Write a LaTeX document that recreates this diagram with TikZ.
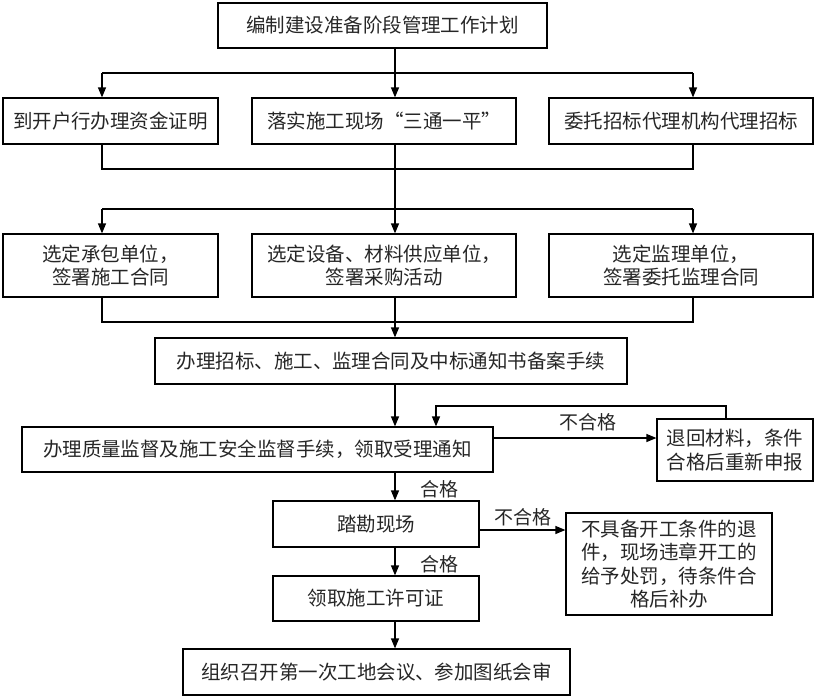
\documentclass[tikz,border=0pt]{standalone}
\usepackage{fontspec}
\setmainfont{Noto Sans CJK SC}
\usetikzlibrary{arrows.meta,calc}
\begin{document}
\begin{tikzpicture}[x=1pt,y=-1pt,
  box/.style={draw,line width=1.2pt,inner sep=0pt,align=center,text=black!85,font=\fontsize{19.5}{23.5}\selectfont},
  lbl/.style={font=\fontsize{19}{22}\selectfont,inner sep=0pt,text=black!85},
  ln/.style={line width=1.2pt},
  arr/.style={line width=1.2pt,-{Triangle[length=10pt,width=8pt]}}]
\useasboundingbox (0,0) rectangle (815,696);
\coordinate (sp) at (395,0);
% boxes
\node[box,minimum width=329pt,minimum height=45pt] (top) at (382.5,25.5) {编制建设准备阶段管理工作计划};
\node[box,minimum width=215pt,minimum height=46pt] (a2) at (110.5,121) {到开户行办理资金证明};
\node[box,minimum width=264pt,minimum height=46pt] (b2) at (384,121) {落实施工现场“三通一平”};
\node[box,minimum width=264pt,minimum height=46pt] (c2) at (681,121) {委托招标代理机构代理招标};
\node[box,minimum width=215pt,minimum height=63pt] (a3) at (110.5,265.5) {选定承包单位，\\签署施工合同};
\node[box,minimum width=264pt,minimum height=63pt] (b3) at (384,265.5) {选定设备、材料供应单位，\\签署采购活动};
\node[box,minimum width=264pt,minimum height=63pt] (c3) at (681,265.5) {选定监理单位，\\签署委托监理合同};
\node[box,minimum width=472pt,minimum height=46pt] (bid) at (391,361) {办理招标、施工、监理合同及中标通知书备案手续};
\node[box,minimum width=471pt,minimum height=45pt] (qual) at (257.5,449.5) {办理质量监督及施工安全监督手续，领取受理通知};
\node[box,minimum width=156pt,minimum height=62pt] (ret) at (735,450) {退回材料，条件\\合格后重新申报};
\node[box,minimum width=206pt,minimum height=46pt] (site) at (376,524) {踏勘现场};
\node[box,minimum width=206pt,minimum height=102pt] (nok) at (669,564) {不具备开工条件的退\\件，现场违章开工的\\给予处罚，待条件合\\格后补办};
\node[box,minimum width=206pt,minimum height=45pt] (permit) at (376,598.5) {领取施工许可证};
\node[box,minimum width=387pt,minimum height=46pt] (last) at (376.5,672) {组织召开第一次工地会议、参加图纸会审};
% branch 1
\coordinate (j1) at (395,73);
\coordinate (j1l) at (102,73);
\coordinate (j1r) at (693,73);
\draw[ln] (sp |- top.south) -- (j1);
\draw[ln] (j1l) -- (j1r);
\draw[arr] (j1l) -- (j1l |- a2.north);
\draw[arr] (j1) -- (j1 |- b2.north);
\draw[arr] (j1r) -- (j1r |- c2.north);
% merge 1 and branch 2
\coordinate (m1l) at (102,169);
\coordinate (m1r) at (693,169);
\coordinate (j2) at (395,209);
\coordinate (j2l) at (102,209);
\coordinate (j2r) at (693,209);
\draw[ln] (m1l |- a2.south) -- (m1l) -- (m1r) -- (m1r |- c2.south);
\draw[ln] (sp |- b2.south) -- (j2);
\draw[ln] (j2l) -- (j2r);
\draw[arr] (j2l) -- (j2l |- a3.north);
\draw[arr] (j2) -- (j2 |- b3.north);
\draw[arr] (j2r) -- (j2r |- c3.north);
% merge 2
\coordinate (m2l) at (102,322);
\coordinate (m2r) at (693,322);
\draw[ln] (m2l |- a3.south) -- (m2l) -- (m2r) -- (m2r |- c3.south);
\draw[arr] (sp |- b3.south) -- (sp |- bid.north);
\draw[arr] (sp |- bid.south) -- (sp |- qual.north);
% feedback loop
\coordinate (qe) at (0,438);
\draw[arr] (qe -| qual.east) -- node[lbl,above=6pt,pos=0.58] (l1) {不合格} (qe -| ret.west);
\coordinate (fb1) at (726,406);
\coordinate (fb2) at (436,406);
\draw[arr] (fb1 |- ret.north) -- (fb1) -- (fb2) -- (fb2 |- qual.north);
% lower chain
\draw[arr] (sp |- qual.south) -- node[lbl,right=25pt,pos=0.6] (l2) {合格} (sp |- site.north);
\coordinate (se) at (0,530);
\draw[arr] (se -| site.east) -- node[lbl,above=3pt,pos=0.5] (l3) {不合格} (se -| nok.west);
\draw[arr] (sp |- site.south) -- node[lbl,right=25pt,pos=0.6] (l4) {合格} (sp |- permit.north);
\draw[arr] (sp |- permit.south) -- (sp |- last.north);
\end{tikzpicture}
\end{document}
